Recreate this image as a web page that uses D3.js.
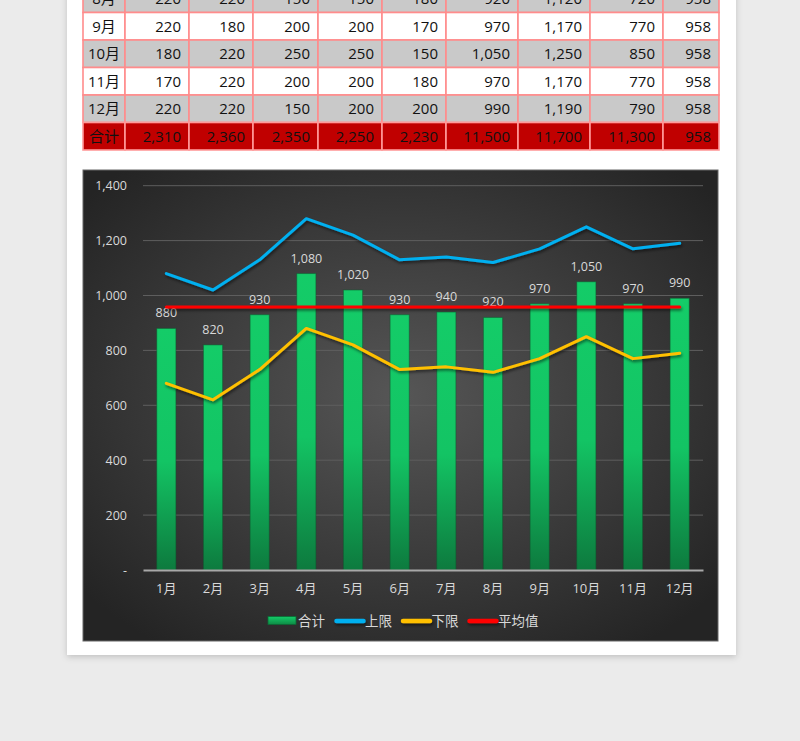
<!DOCTYPE html>
<html><head><meta charset="utf-8">
<script src="https://cdn.jsdelivr.net/npm/d3@7"></script>
<style>
html,body{margin:0;padding:0;background:#ebebeb;}
svg{display:block;font-family:"Open Sans","Noto Sans CJK SC",sans-serif;}
</style></head>
<body>
<svg id="c" width="800" height="741"></svg>
<script>
// ---------- data ----------
const months = ['1月','2月','3月','4月','5月','6月','7月','8月','9月','10月','11月','12月'];
const totals = [880,820,930,1080,1020,930,940,920,970,1050,970,990];
const upper  = [1080,1020,1130,1280,1220,1130,1140,1120,1170,1250,1170,1190];
const lower  = [680,620,730,880,820,730,740,720,770,850,770,790];
const average = 958;
const yTicks = [0,200,400,600,800,1000,1200,1400];
const legendLabels = ['合计','上限','下限','平均值'];

const tableMonths = ['8月','9月','10月','11月','12月','合计'];
const row8  = [220,220,150,150,180,920,1120,720,958];
const row9  = [220,180,200,200,170,970,1170,770,958];
const row10 = [180,220,250,250,150,1050,1250,850,958];
const row11 = [170,220,200,200,180,970,1170,770,958];
const row12 = [220,220,150,200,200,990,1190,790,958];
const rowSum = [2310,2360,2350,2250,2230,11500,11700,11300,958];
const tableRows = [row8,row9,row10,row11,row12,rowSum];

// ---------- setup ----------
const FONT = '"Open Sans","Noto Sans CJK SC",sans-serif';
const svg = d3.select('#c');
const defs = svg.append('defs');
const fmt = d3.format(',');

const sh = defs.append('filter').attr('id','cardShadow').attr('filterUnits','userSpaceOnUse')
  .attr('x',40).attr('y',-30).attr('width',720).attr('height',720);
sh.append('feDropShadow').attr('dx',0).attr('dy',2).attr('stdDeviation',3).attr('flood-color','#000').attr('flood-opacity',0.18);

const lsh = defs.append('filter').attr('id','lineShadow').attr('filterUnits','userSpaceOnUse')
  .attr('x',0).attr('y',0).attr('width',800).attr('height',741);
lsh.append('feDropShadow').attr('dx',1).attr('dy',2).attr('stdDeviation',1.5).attr('flood-color','#000').attr('flood-opacity',0.55);

const bg = defs.append('radialGradient').attr('id','bgGrad').attr('cx','50%').attr('cy','48%').attr('r','65%');
bg.append('stop').attr('offset','0%').attr('stop-color','#565656');
bg.append('stop').attr('offset','100%').attr('stop-color','#242424');

const bg2 = defs.append('linearGradient').attr('id','barGrad').attr('x1',0).attr('y1',0).attr('x2',0).attr('y2',1);
bg2.append('stop').attr('offset','0%').attr('stop-color','#14cc68');
bg2.append('stop').attr('offset','55%').attr('stop-color','#13c464');
bg2.append('stop').attr('offset','100%').attr('stop-color','#0d7a3e');

const lg = defs.append('linearGradient').attr('id','legGrad').attr('x1',0).attr('y1',0).attr('x2',0).attr('y2',1);
lg.append('stop').attr('offset','0%').attr('stop-color','#14cc68');
lg.append('stop').attr('offset','100%').attr('stop-color','#0e8a45');

// ---------- card ----------
svg.append('rect').attr('x',67).attr('y',-10).attr('width',669).attr('height',665)
  .attr('fill','#fff').attr('filter','url(#cardShadow)');

// ---------- table ----------
const colEdges = [83,125,189,253,318,382,446,518,590,663,719];
const rowTop = -15, rowH = 27.5;
const rowFill = (i) => i === tableRows.length-1 ? '#c00000' : (i % 2 === 0 ? '#c9c9c9' : '#ffffff');
const tg = svg.append('g');
tableRows.forEach((vals, i) => {
  const y0 = rowTop + i*rowH;
  const cells = [tableMonths[i]].concat(vals);
  cells.forEach((v, j) => {
    const x0 = colEdges[j], x1 = colEdges[j+1];
    tg.append('rect').attr('x',x0).attr('y',y0).attr('width',x1-x0).attr('height',rowH)
      .attr('fill',rowFill(i)).attr('stroke', i === tableRows.length-1 ? '#ff9a9a' : '#ff8c8c').attr('stroke-width',1.6);
    tg.append('text')
      .attr('x', j === 0 ? (x0+x1)/2 : x1-8)
      .attr('y', y0 + rowH/2)
      .attr('dy','0.36em')
      .attr('text-anchor', j === 0 ? 'middle' : 'end')
      .attr('font-size',15)
      .attr('fill','#111')
      .text(j === 0 ? v : fmt(v));
  });
});

// ---------- chart ----------
const cx0 = 83, cy0 = 170, cw = 635, ch = 471;
svg.append('rect').attr('x',cx0).attr('y',cy0).attr('width',cw).attr('height',ch)
  .attr('fill','url(#bgGrad)').attr('stroke','#666').attr('stroke-width',1);

const x = d3.scaleBand().domain(months).range([143,703]).paddingInner(0.59).paddingOuter(0.295);
const y = d3.scaleLinear().domain([0,1400]).range([570,185.7]);
const xc = (m) => x(m) + x.bandwidth()/2;

// gridlines
svg.append('g').selectAll('line').data(yTicks.filter(t=>t>0)).join('line')
  .attr('x1',143).attr('x2',703).attr('y1',d=>y(d)).attr('y2',d=>y(d))
  .attr('stroke','#5e5e5e').attr('stroke-width',1);

// y axis labels
const yAxis = d3.axisLeft(y).tickValues(yTicks).tickSize(0).tickPadding(0)
  .tickFormat(d => d === 0 ? '-' : fmt(d));
const yg = svg.append('g').attr('transform','translate(127,0)').call(yAxis);
yg.select('.domain').remove();
yg.selectAll('text').attr('fill','#d9d9d9').attr('font-size',12.5).attr('font-family',FONT);

// bars
svg.append('g').selectAll('rect').data(months).join('rect')
  .attr('x',d=>x(d)).attr('width',x.bandwidth())
  .attr('y',(d,i)=>y(totals[i])).attr('height',(d,i)=>y(0)-y(totals[i]))
  .attr('fill','url(#barGrad)').attr('stroke','#0b5a2e').attr('stroke-opacity',0.5).attr('stroke-width',1);

// x axis
const xAxis = d3.axisBottom(x).tickSize(0).tickPadding(14);
const xg = svg.append('g').attr('transform','translate(0,570)').call(xAxis);
xg.select('.domain').attr('stroke','#a8a8a8').attr('stroke-width',2);
xg.selectAll('text').attr('fill','#d9d9d9').attr('font-size',13).attr('font-family',FONT);

// bar labels
svg.append('g').selectAll('text').data(months).join('text')
  .attr('x',d=>xc(d)).attr('y',(d,i)=>y(totals[i])-11)
  .attr('text-anchor','middle').attr('font-size',12.5).attr('fill','#d9d9d9')
  .text((d,i)=>fmt(totals[i]));

// lines
const line = d3.line().x((d,i)=>xc(months[i])).y(d=>y(d));
const lines = [
  {vals: upper, color:'#00b0f0'},
  {vals: lower, color:'#ffc000'},
  {vals: months.map(()=>average), color:'#ff0000'}
];
svg.append('g').selectAll('path').data(lines).join('path')
  .attr('d',d=>line(d.vals)).attr('fill','none').attr('stroke',d=>d.color)
  .attr('stroke-width',3).attr('stroke-linejoin','round').attr('stroke-linecap','round')
  .attr('filter','url(#lineShadow)');

// legend
const legColors = ['url(#legGrad)','#00b0f0','#ffc000','#ff0000'];
const legX = [268,335,401.5,468];
const leg = svg.append('g');
legendLabels.forEach((lab,i)=>{
  if (i === 0) {
    leg.append('rect').attr('x',legX[i]).attr('y',616.5).attr('width',28).attr('height',8)
      .attr('fill',legColors[i]).attr('stroke','#0b6a35').attr('stroke-width',0.8);
  } else {
    leg.append('line').attr('x1',legX[i]+1.5).attr('x2',legX[i]+28.5).attr('y1',621).attr('y2',621)
      .attr('stroke',legColors[i]).attr('stroke-width',4.5).attr('stroke-linecap','round')
      .attr('filter','url(#lineShadow)');
  }
  leg.append('text').attr('x',legX[i]+30).attr('y',621).attr('dy','0.36em')
    .attr('font-size',13.5).attr('fill','#d9d9d9').text(lab);
});
</script>
</body></html>
